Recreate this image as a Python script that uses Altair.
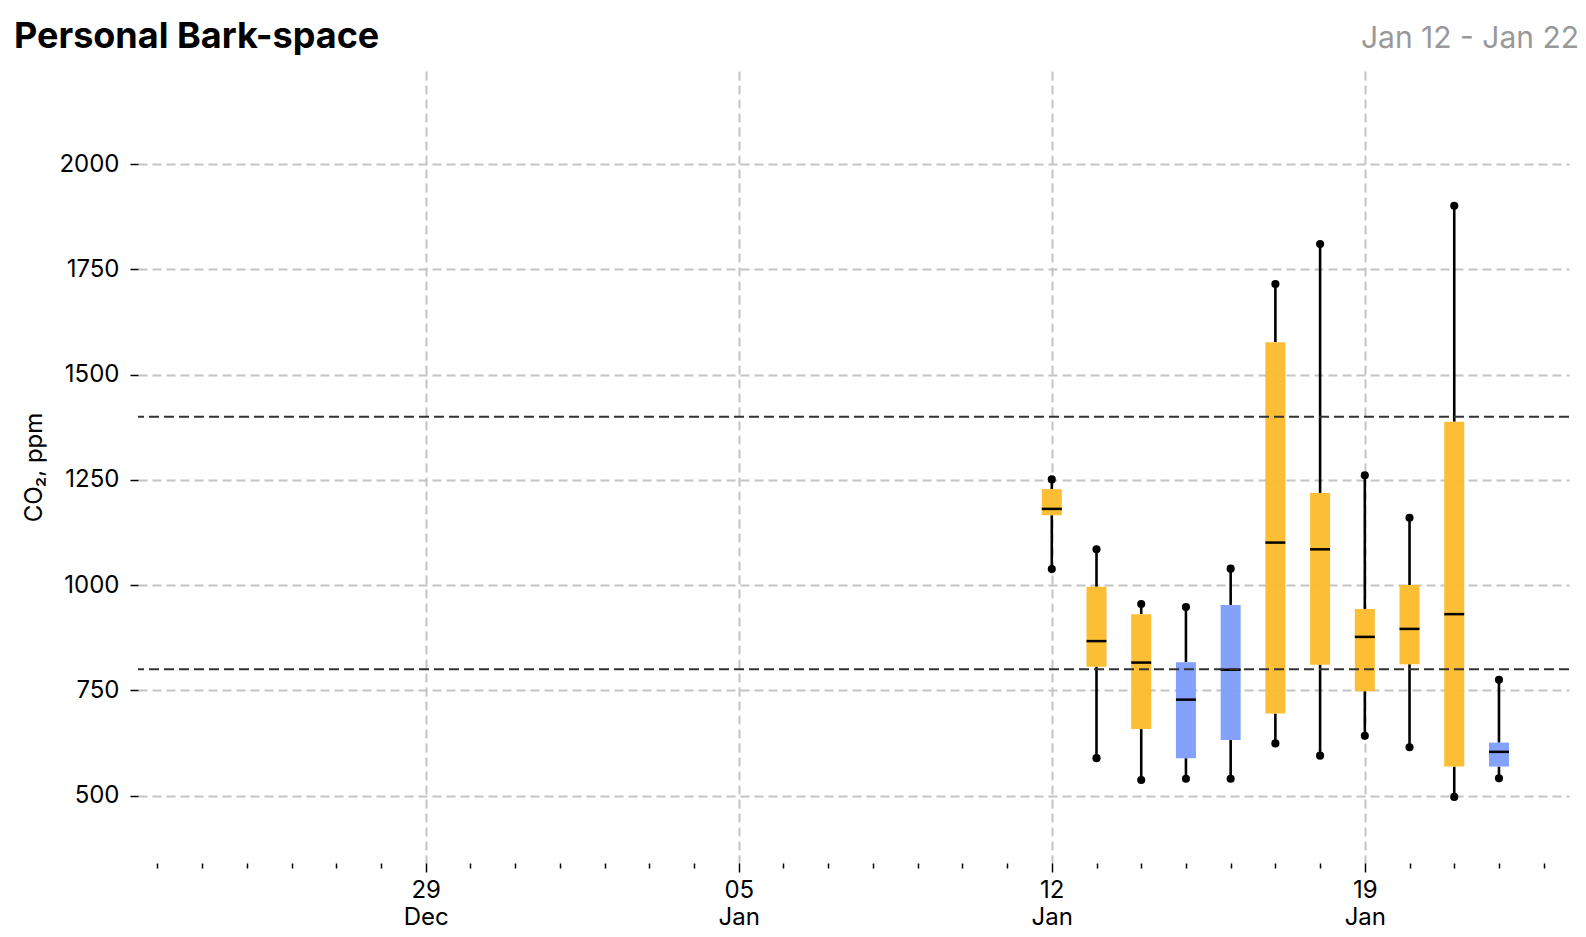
import altair as alt
import pandas as pd

# Daily CO2 distribution (ppm) for each day in the period
days = ["2026-01-12", "2026-01-13", "2026-01-14", "2026-01-15", "2026-01-16", "2026-01-17",
        "2026-01-18", "2026-01-19", "2026-01-20", "2026-01-21", "2026-01-22"]
lows = [1038, 589, 537, 540, 540, 624, 595, 642, 615, 497, 541]
q1s = [1166, 806, 658, 589, 632, 695, 811, 748, 812, 569, 569]
medians = [1181, 867, 816, 728, 799, 1101, 1085, 877, 896, 931, 604]
q3s = [1228, 996, 931, 817, 953, 1577, 1219, 943, 1000, 1388, 626]
highs = [1251, 1085, 955, 948, 1039, 1715, 1810, 1261, 1160, 1901, 775]
zones = ["above", "above", "above", "below", "below", "above", "above", "above", "above", "above", "below"]

thresholds = [800, 1400]
y_ticks = [500, 750, 1000, 1250, 1500, 1750, 2000]
tick_days = pd.date_range("2025-12-23", "2026-01-23", freq="D")

title_text = "Personal Bark-space"
range_text = "Jan 12 - Jan 22"

FONT = "Inter"
GRID = "#c4c4c4"
W, H = 1431, 792

df = pd.DataFrame({
    "day": [d + "T00:00:00" for d in days],
    "low": lows, "q1": q1s, "median": medians, "q3": q3s, "high": highs, "zone": zones,
})

is_week = "day(datum.value) == 1"

x_axis = alt.Axis(
    values=[alt.DateTime(year=d.year, month=d.month, date=d.day) for d in tick_days],
    title=None,
    domain=False,
    grid=True,
    gridColor=GRID,
    gridDash=[9, 5],
    gridWidth=2,
    gridOpacity={"condition": {"test": is_week, "value": 1}, "value": 0},
    tickColor="black",
    tickWidth=1.5,
    tickSize={"condition": {"test": is_week, "value": 9}, "value": 5},
    labelExpr=f"{is_week} ? [timeFormat(datum.value, '%d'), timeFormat(datum.value, '%b')] : ''",
    labelFont=FONT,
    labelFontSize=24,
    labelColor="black",
    labelPadding=6,
    labelLineHeight=27,
    labelOverlap=False,
    labelFlush=False,
    labelBound=False,
)

y_axis = alt.Axis(
    values=y_ticks,
    format="d",
    title="CO₂, ppm",
    domain=False,
    grid=True,
    gridColor=GRID,
    gridDash=[9, 5],
    gridWidth=2,
    tickColor="black",
    tickSize=8,
    tickWidth=1.5,
    labelFont=FONT,
    labelFontSize=24,
    labelColor="black",
    labelPadding=11,
    titleFont=FONT,
    titleFontSize=24,
    titleFontWeight="normal",
    titleColor="black",
    titlePadding=12,
)

x_enc = alt.X(
    "day:T",
    scale=alt.Scale(
        domain=[
            alt.DateTime(year=2025, month=12, date=22, hours=13, minutes=35),
            alt.DateTime(year=2026, month=1, date=23, hours=13, minutes=35),
        ],
        nice=False,
        padding=0,
    ),
    axis=x_axis,
)
y_scale = alt.Scale(domain=[340, 2221], nice=False, zero=False, padding=0)


def y_enc(field):
    return alt.Y(f"{field}:Q", scale=y_scale, axis=y_axis)


color = alt.Color(
    "zone:N",
    scale=alt.Scale(domain=["above", "below"], range=["#FCBC2D", "#809FFC"]),
    legend=None,
)

base = alt.Chart(df)

whisker_low = base.mark_rule(color="black", strokeWidth=2.6).encode(
    x=x_enc, y=y_enc("low"), y2="q1:Q")
whisker_high = base.mark_rule(color="black", strokeWidth=2.6).encode(
    x=x_enc, y=y_enc("q3"), y2="high:Q")
boxes = base.mark_bar(size=20, opacity=0.97).encode(
    x=x_enc, y=y_enc("q1"), y2="q3:Q", color=color)
median_ticks = base.mark_tick(orient="horizontal", size=20, thickness=2.5, color="black", opacity=1).encode(
    x=x_enc, y=y_enc("median"))
low_dots = base.mark_circle(size=66, color="black", opacity=1).encode(
    x=x_enc, y=y_enc("low"))
high_dots = base.mark_circle(size=66, color="black", opacity=1).encode(
    x=x_enc, y=y_enc("high"))

threshold_rules = alt.Chart(pd.DataFrame({"level": thresholds})).mark_rule(
    color="#333333", strokeWidth=2, strokeDash=[10, 5]
).encode(y=alt.Y("level:Q", scale=y_scale, axis=y_axis))

heading = alt.Chart(pd.DataFrame({"t": [title_text]})).mark_text(
    align="left", baseline="alphabetic", font=FONT, fontSize=36, fontWeight="bold", color="black"
).encode(text="t:N", x=alt.value(-124), y=alt.value(-23))

date_range = alt.Chart(pd.DataFrame({"t": [range_text]})).mark_text(
    align="right", baseline="alphabetic", font=FONT, fontSize=30, color="#999999"
).encode(text="t:N", x=alt.value(1441), y=alt.value(-23))

chart = alt.layer(
    whisker_low, whisker_high, boxes, median_ticks, low_dots, high_dots,
    threshold_rules, heading, date_range,
).properties(
    width=W,
    height=H,
    autosize=alt.AutoSizeParams(type="none"),
    padding={"left": 138, "top": 71, "right": 17, "bottom": 74},
    background="white",
).configure_view(stroke=None)

chart.save("out.html", embed_options={"renderer": "svg", "actions": False})
